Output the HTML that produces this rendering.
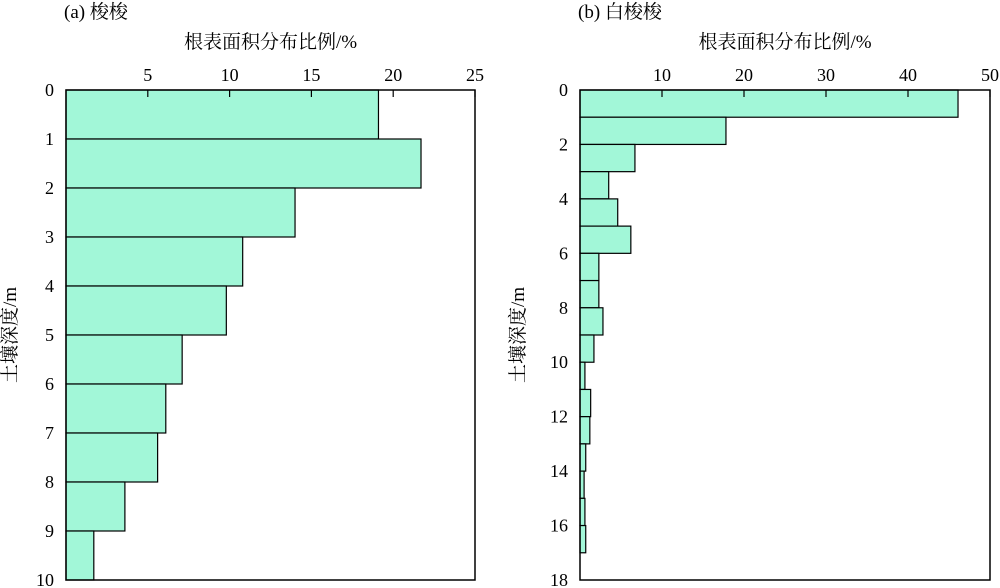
<!DOCTYPE html>
<html><head><meta charset="utf-8"><style>
body{margin:0;background:#fff;}
svg{display:block;font-family:"Liberation Serif","Noto Serif CJK SC",serif;}
</style></head><body>
<svg id="c" width="1000" height="588" xmlns="http://www.w3.org/2000/svg"></svg>
<script>
const leftTicks=[5,10,15,20,25];
const leftDepthLabels=[0,1,2,3,4,5,6,7,8,9,10];
const leftValues=[19.1,21.7,14.0,10.8,9.8,7.1,6.1,5.6,3.6,1.7];
const rightTicks=[10,20,30,40,50];
const rightDepthLabels=[0,2,4,6,8,10,12,14,16,18];
const rightValues=[46.1,17.8,6.7,3.5,4.6,6.2,2.3,2.3,2.8,1.7,0.6,1.3,1.2,0.7,0.5,0.6,0.7,0];
const NS="http://www.w3.org/2000/svg";
const svg=document.getElementById('c');
function mk(tag,attrs,parent){const e=document.createElementNS(NS,tag);for(const k in attrs)e.setAttribute(k,attrs[k]);(parent||svg).appendChild(e);return e;}
function panel(cfg){
  const g=mk('g',{});
  
  
  const x=v=>cfg.x0+(v/cfg.xmax)*(cfg.x1-cfg.x0);
  const y=d=>cfg.y0+(d/cfg.ymax)*(cfg.y1-cfg.y0);
  cfg.values.forEach((v,i)=>{
    if(v<=0)return;
    const r=mk('rect',{x:x(0),y:y(i),width:x(v)-x(0),height:y(i+1)-y(i),fill:'#a2f7d8',stroke:'#000','stroke-width':1.2},g);
    
    
  });
  const frame=mk('rect',{x:cfg.x0,y:cfg.y0,width:cfg.x1-cfg.x0,height:cfg.y1-cfg.y0,fill:'none',stroke:'#000','stroke-width':1.5},g);
  
  
  cfg.ticks.forEach(t=>{
    mk('line',{x1:x(t),x2:x(t),y1:cfg.y0,y2:cfg.y0+7,stroke:'#000','stroke-width':1.2},g);
    const tx=mk('text',{x:x(t),y:cfg.y0-9,'text-anchor':'middle','font-size':18},g);
    tx.textContent=t;
    
    
  });
  cfg.depths.forEach(d=>{
    const tx=mk('text',{x:cfg.x0-12,y:y(d)+6,'text-anchor':'end','font-size':18},g);
    tx.textContent=d;
    
    
  });
  const xt=mk('text',{x:(cfg.x0+cfg.x1)/2,y:48,'text-anchor':'middle','font-size':19},g);
  xt.textContent='根表面积分布比例/%';
  
  
  const ti=mk('text',{x:cfg.titleX,y:18,'font-size':19},g);
  ti.textContent=cfg.title;
  
  
  const yt=mk('text',{x:0,y:0,'text-anchor':'middle','font-size':19,transform:'translate('+cfg.ytX+',335) rotate(-90)'},g);
  yt.textContent='土壤深度/m';
  
  
}
panel({name:'panel-a',x0:66,x1:475,y0:90,y1:580,xmax:25,ymax:10,values:leftValues,ticks:leftTicks,depths:leftDepthLabels,title:'(a) 梭梭',titleX:64,ytX:16});
panel({name:'panel-b',x0:580,x1:990,y0:90,y1:580,xmax:50,ymax:18,values:rightValues,ticks:rightTicks,depths:rightDepthLabels,title:'(b) 白梭梭',titleX:578,ytX:524});
</script>
</body></html>
